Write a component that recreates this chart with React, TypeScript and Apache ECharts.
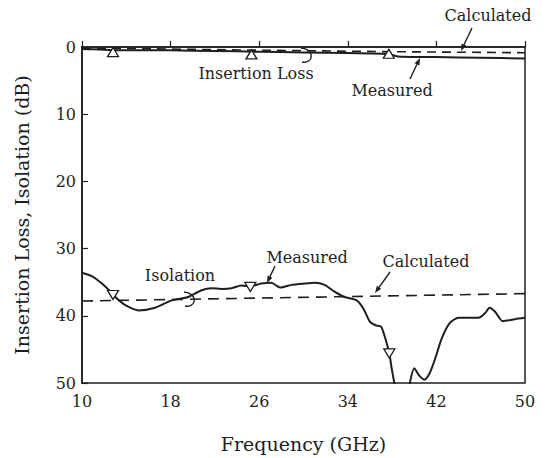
import React, { useEffect, useRef } from "react";
import * as echarts from "echarts";

// ---------- data ----------
const xTicks = [10, 18, 26, 34, 42, 50];
const yTicks = [0, 10, 20, 30, 40, 50];

const ilMeasFreq = [10, 11, 12, 14, 18, 22, 26, 30, 34, 37.5, 38.5, 42, 46, 50];
const ilMeasDb = [0.3, 0.35, 0.4, 0.5, 0.5, 0.6, 0.7, 0.8, 0.9, 1.0, 1.4, 1.5, 1.6, 1.7];

const ilCalcFreq = [10, 20, 30, 38, 50];
const ilCalcDb = [0.15, 0.35, 0.55, 0.7, 0.85];

const ilMarkFreq = [12.8, 25.3, 37.7];
const ilMarkDb = [0.75, 1.1, 1.0];

const isoMeasFreq = [
  10, 11, 11.8, 12.5, 13.2, 14, 15.1, 16.6, 18.1, 19.6, 20.8, 21.7, 22.6, 23.5, 24.4, 25.2,
  26.2, 27.1, 27.9, 28.9, 30.1, 31, 31.9, 32.8, 33.7, 34.8, 35.4, 36, 36.5, 37, 37.3, 37.75,
  37.96, 38.2, 38.6, 39.2, 39.6, 40, 40.4, 40.9, 41.4, 41.9, 42.5, 43.2, 44, 45.8, 46.4, 46.8,
  47.3, 48, 49.1, 50,
];
const isoMeasDb = [
  33.6, 34.2, 35.2, 36.3, 37.5, 38.5, 39.2, 38.8, 37.7, 37.2, 36.2, 35.9, 36.0, 35.9, 35.5, 35.6,
  35.2, 35.1, 35.8, 35.4, 35.2, 35.1, 35.4, 36.4, 37.2, 37.7, 38.9, 40.9, 41.4, 41.6, 42.9, 45.6,
  47.8, 50.0, 54, 54, 50.0, 47.8, 48.8, 49.5, 48.5, 46.3, 43.3, 41.1, 40.3, 40.3, 39.6, 38.8,
  39.4, 40.8, 40.5, 40.3,
];

const isoCalcFreq = [10, 50];
const isoCalcDb = [37.8, 36.7];

const isoMarkFreq = [12.8, 25.2, 37.75];
const isoMarkDb = [36.9, 35.7, 45.6];

// ---------- styles ----------
const INK = "#1e1e1e";
const FONT = "'DejaVu Serif', 'Liberation Serif', serif";

const zip = (a: number[], b: number[]) => a.map((v, i) => [v, b[i]]);

function arrow(x1: number, y1: number, x2: number, y2: number, head = 7) {
  const a = Math.atan2(y2 - y1, x2 - x1);
  const bx = x2 - head * Math.cos(a);
  const by = y2 - head * Math.sin(a);
  const w = head * 0.38;
  return [
    { type: "line", shape: { x1, y1, x2: bx, y2: by }, style: { stroke: INK, lineWidth: 1.4 } },
    {
      type: "polygon",
      shape: {
        points: [
          [x2, y2],
          [bx + w * Math.sin(a), by - w * Math.cos(a)],
          [bx - w * Math.sin(a), by + w * Math.cos(a)],
        ],
      },
      style: { fill: INK },
    },
  ];
}

function label(text: string, x: number, y: number) {
  return {
    type: "text",
    x,
    y,
    style: { text, fill: INK, font: `16px ${FONT}`, textAlign: "center", textVerticalAlign: "middle" },
  };
}

function curl(x: number, y: number, h: number) {
  return {
    type: "bezierCurve",
    shape: { x1: x - 4, y1: y, cpx1: x + 10, cpy1: y + 1, cpx2: x + 9, cpy2: y + h, x2: x - 3, y2: y + h - 2 },
    style: { stroke: INK, lineWidth: 1.4, fill: "none" },
  };
}

export default function App() {
  const ref = useRef<HTMLDivElement>(null);
  useEffect(() => {
    if (!ref.current) return;
    const chart = echarts.init(ref.current, null, { renderer: "svg" });
    const axisText = { color: INK, fontFamily: FONT, fontSize: 16 };
    chart.setOption({
      animation: false,
      backgroundColor: "#fff",
      grid: { left: 82, right: 25, top: 47, bottom: 73, show: true, borderColor: INK, borderWidth: 1.5 },
      xAxis: {
        type: "value",
        min: 10,
        max: 50,
        name: "Frequency (GHz)",
        nameLocation: "middle",
        nameGap: 51,
        nameTextStyle: { color: INK, fontFamily: FONT, fontSize: 19 },
        axisLine: { lineStyle: { color: INK, width: 1.5 } },
        axisTick: { inside: true, length: 6, customValues: xTicks, lineStyle: { color: INK, width: 1.2 } },
        axisLabel: { ...axisText, margin: 10, customValues: xTicks },
        splitLine: { show: false },
      },
      yAxis: {
        type: "value",
        inverse: true,
        min: 0,
        max: 50,
        interval: 10,
        name: "Insertion Loss, Isolation (dB)",
        nameLocation: "middle",
        nameGap: 51,
        nameTextStyle: { color: INK, fontFamily: FONT, fontSize: 19 },
        axisLine: { show: true, lineStyle: { color: INK, width: 1.5 } },
        axisTick: { show: true, inside: true, length: 6, customValues: yTicks, lineStyle: { color: INK, width: 1.2 } },
        axisLabel: { ...axisText, margin: 6, customValues: yTicks },
        splitLine: { show: false },
      },
      series: [
        {
          name: "IL calculated",
          type: "line",
          data: zip(ilCalcFreq, ilCalcDb),
          showSymbol: false,
          lineStyle: { color: INK, width: 1.6, type: [9, 6] },
        },
        {
          name: "IL measured",
          type: "line",
          data: zip(ilMeasFreq, ilMeasDb),
          showSymbol: false,
          smooth: 0.2,
          lineStyle: { color: INK, width: 2 },
        },
        {
          name: "Isolation calculated",
          type: "line",
          data: zip(isoCalcFreq, isoCalcDb),
          showSymbol: false,
          lineStyle: { color: INK, width: 1.6, type: [11, 7] },
        },
        {
          name: "Isolation measured",
          type: "line",
          data: zip(isoMeasFreq, isoMeasDb),
          showSymbol: false,
          smooth: 0.25,
          clip: true,
          lineStyle: { color: INK, width: 2 },
        },
        {
          name: "IL markers",
          type: "scatter",
          data: zip(ilMarkFreq, ilMarkDb),
          symbol: "triangle",
          symbolSize: [11, 9],
          itemStyle: { color: "#fff", borderColor: INK, borderWidth: 1.3, opacity: 1 },
          z: 5,
        },
        {
          name: "Isolation markers",
          type: "scatter",
          data: zip(isoMarkFreq, isoMarkDb),
          symbol: "triangle",
          symbolRotate: 180,
          symbolSize: [11, 9],
          itemStyle: { color: "#fff", borderColor: INK, borderWidth: 1.3, opacity: 1 },
          z: 5,
        },
      ],
      graphic: [
        label("Calculated", 488, 15),
        ...arrow(472, 28, 461, 51),
        label("Insertion Loss", 256, 73),
        curl(305, 48, 16),
        label("Measured", 392, 90),
        ...arrow(410, 79, 420, 58),
        label("Isolation", 180, 275),
        curl(188, 292, 16),
        label("Measured", 307, 257),
        ...arrow(275, 266, 267, 283),
        label("Calculated", 426, 261),
        ...arrow(390, 272, 375, 293),
      ],
    });
    return () => chart.dispose();
  }, []);
  return (
    <div
      ref={ref}
      style={{ position: "absolute", left: 0, top: 0, width: 550, height: 458 }}
    />
  );
}
